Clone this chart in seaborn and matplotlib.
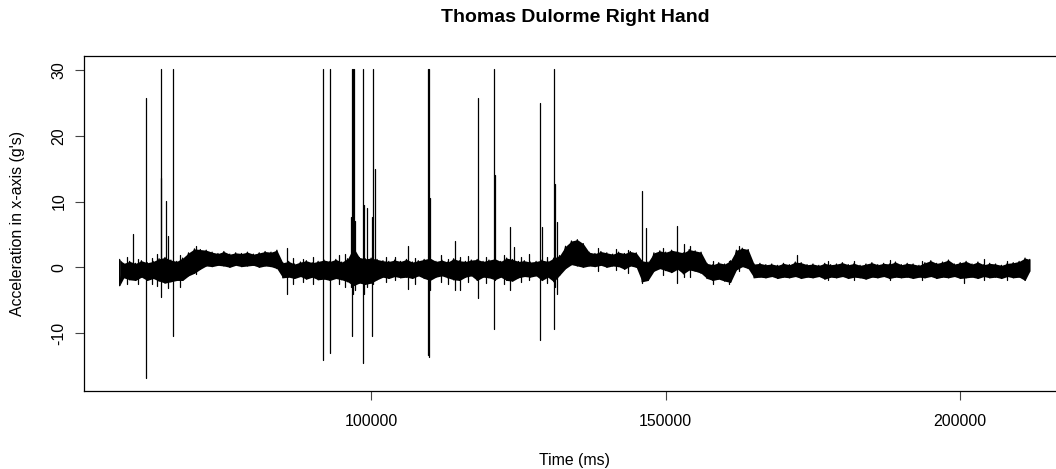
import numpy as np
import pandas as pd
import matplotlib
matplotlib.use("Agg")
import matplotlib.pyplot as plt
import seaborn as sns

# ---------------- data ----------------
title = "Thomas Dulorme Right Hand"
x_label = "Time (ms)"
y_label = "Acceleration in x-axis (g's)"
x_ticks = [100000, 150000, 200000]
y_ticks = [-10, 0, 10, 20, 30]

# time grid of the envelope readings (ms)
env_t = [57300] + list(range(58000, 212000, 1000)) + [211800]

# upper edge of the dense noise band at each env_t (g)
env_hi = [
    1.2, 0.6, 0.9, 0.6, 1.0, 0.7, 0.9, 1.3, 1.5, 1.1,          # 57.3-66
    0.9, 1.4, 2.2, 2.8, 2.7, 2.6, 2.3, 2.1, 2.4, 2.0,          # 67-76
    2.2, 2.1, 2.3, 2.0, 2.2, 2.4, 2.3, 2.6, 0.7, 0.9,          # 77-86
    0.5, 0.8, 1.0, 0.7, 0.9, 1.1, 0.9, 1.2, 0.8, 1.3,          # 87-96
    3.0, 1.5, 1.3, 1.4, 1.2, 1.0, 0.9, 1.1, 0.9, 1.2,          # 97-106
    0.8, 1.0, 1.2, 1.4, 0.9, 1.1, 0.8, 1.3, 1.0, 0.9,          # 107-116
    1.1, 1.2, 0.9, 1.1, 1.3, 0.9, 1.4, 1.2, 0.9, 1.0,          # 117-126
    0.8, 0.9, 1.1, 0.9, 1.4, 1.8, 3.2, 4.0, 4.2, 3.6,          # 127-136
    2.3, 2.1, 2.4, 2.2, 2.0, 2.3, 2.1, 2.4, 2.2, 1.0,          # 137-146
    0.8, 2.2, 2.5, 2.3, 2.6, 2.4, 2.2, 2.7, 2.5, 2.3,          # 147-156
    0.6, 0.4, 0.7, 0.5, 1.0, 2.6, 2.9, 2.7, 0.5, 0.6,          # 157-166
    0.4, 0.5, 0.3, 0.6, 0.4, 0.8, 0.7, 0.4, 0.5, 0.3,          # 167-176
    0.6, 0.4, 0.5, 0.7, 0.4, 0.6, 0.3, 0.5, 0.7, 0.4,          # 177-186
    0.6, 0.5, 0.8, 0.4, 0.6, 0.5, 0.3, 0.7, 1.0, 0.6,          # 187-196
    0.8, 1.1, 0.5, 0.7, 0.9, 0.5, 0.8, 0.4, 0.6, 0.5,          # 197-206
    0.3, 0.6, 0.7, 0.9, 1.4, 1.2,                              # 207-211.8
]

# lower edge of the dense noise band at each env_t (g)
env_lo = [
    -2.8, -1.6, -1.9, -2.0, -1.5, -2.0, -1.7, -2.1, -2.4, -2.2,
    -2.0, -2.0, -1.3, -0.9, -0.3, 0.2, 0.1, 0.3, 0.2, 0.0,
    0.3, 0.1, 0.2, 0.3, 0.0, 0.2, 0.1, -0.2, -1.6, -1.5,
    -1.7, -1.4, -1.8, -1.5, -1.9, -1.8, -2.0, -1.7, -1.9, -2.2,
    -2.8, -2.4, -2.6, -2.4, -1.9, -1.5, -1.7, -1.4, -1.6, -1.5,
    -1.7, -1.3, -1.7, -2.0, -1.5, -1.3, -1.6, -1.9, -2.0, -1.5,
    -1.3, -2.0, -1.5, -1.6, -1.9, -1.5, -2.0, -2.1, -1.6, -1.4,
    -1.5, -1.3, -2.0, -1.5, -2.2, -1.2, -0.2, 0.4, 0.2, 0.0,
    0.2, 0.1, 0.3, 0.0, 0.2, 0.1, -0.3, 0.2, 0.0, -2.2,
    -2.0, -0.6, -0.2, -0.5, -0.8, -0.3, -1.0, -0.4, -0.6, -0.9,
    -1.7, -2.0, -1.8, -2.1, -2.3, -0.4, 0.1, -0.2, -1.6, -1.5,
    -1.6, -1.4, -1.7, -1.5, -1.6, -1.4, -1.7, -1.5, -1.6, -1.4,
    -1.8, -1.5, -1.6, -1.4, -1.7, -1.5, -1.6, -1.8, -1.5, -1.6,
    -1.4, -1.7, -1.5, -1.6, -1.5, -1.7, -1.5, -1.6, -1.4, -1.7,
    -1.5, -1.6, -1.4, -1.7, -1.6, -1.5, -1.7, -1.4, -1.6, -1.5,
    -1.7, -1.4, -1.6, -1.5, -2.0, -0.6,
]

# spikes / needles: time (ms), peak (g), trough (g)
spike_t = [58500, 59640, 60500, 61740, 62800, 63600, 64300, 64340, 65190, 65500,
           66430, 67500, 70300, 85790, 86800, 88500, 90200, 91800, 93040, 94500,
           95500, 96600, 96750, 96900, 97050, 97300, 98590, 98700, 99370, 100170,
           100290, 100630, 102500, 104000, 106330, 107500, 109620, 109850, 110020, 111800,
           113000, 114260, 115110, 116500, 118120, 119500, 120770, 120950, 122500, 123600,
           124170, 125500, 126800, 128700, 128930, 129800, 131070, 131240, 131500, 138500,
           141500, 143600, 145960, 146640, 149500, 151900, 153030, 154200, 158000, 160800,
           162500, 172280, 177500, 182000, 188000, 193500, 200580, 204000, 208000]
spike_hi = [1.5, 5.0, 1.2, 25.7, 1.4, 2.0, 13.5, 30.2, 10.1, 4.7,
            30.2, 1.8, 3.2, 3.0, 1.4, 1.2, 1.5, 30.2, 30.2, 1.8,
            2.0, 7.7, 30.2, 30.2, 30.2, 7.0, 30.2, 9.5, 9.0, 7.7,
            30.2, 15.0, 1.6, 1.5, 3.3, 1.4, 30.2, 30.2, 10.6, 1.9,
            1.3, 4.0, 1.5, 1.7, 25.8, 1.6, 30.2, 14.0, 1.8, 6.1,
            3.1, 1.5, 2.0, 25.0, 6.2, 1.6, 30.2, 12.6, 6.9, 2.9,
            2.8, 2.7, 11.6, 5.9, 3.0, 6.3, 3.6, 3.2, 1.0, 0.9,
            3.3, 1.9, 1.0, 0.9, 1.1, 0.9, 0.6, 1.2, 0.9]
spike_lo = [-2.6, -1.6, -2.5, -16.9, -2.6, -2.8, -2.0, -4.5, -2.2, -3.1,
            -10.4, -3.0, -1.0, -4.1, -2.6, -2.3, -2.5, -14.1, -13.0, -2.6,
            -3.0, -3.0, -10.5, -4.0, -2.5, -3.5, -14.6, -4.0, -3.0, -10.4,
            -2.5, -2.0, -2.2, -2.0, -3.3, -2.5, -13.3, -13.6, -3.5, -2.3,
            -2.6, -3.4, -3.4, -2.2, -4.7, -2.4, -9.4, -2.0, -2.5, -3.5,
            -1.5, -2.2, -2.0, -11.1, -2.0, -2.4, -9.4, -3.0, -4.0, -0.5,
            -0.4, -0.9, -2.4, -2.0, -1.2, -2.4, -1.5, -1.5, -2.5, -2.6,
            -0.6, -1.2, -1.9, -2.0, -1.9, -2.0, -2.4, -1.9, -2.0]

# ---------------- assemble the readings into one long table ----------------
rows = []
for t, h, l in zip(env_t, env_hi, env_lo):
    rows.append((0, t, 0, h))
    rows.append((0, t, 1, l))
for k, (t, h, l) in enumerate(zip(spike_t, spike_hi, spike_lo), start=1):
    rows.append((k, t, 0, h))
    rows.append((k, t, 1, l))
sig = pd.DataFrame(rows, columns=["unit", "time", "order", "acc"]).sort_values(
    ["unit", "time", "order"], kind="stable").reset_index(drop=True)

# ---------------- figure ----------------
sns.set_theme(style="ticks")
plt.rcParams["font.family"] = ["Liberation Sans", "DejaVu Sans"]
plt.rcParams["text.color"] = "black"
plt.rcParams["axes.labelcolor"] = "black"
plt.rcParams["xtick.color"] = "black"
plt.rcParams["ytick.color"] = "black"

W, H = 1056, 469
fig = plt.figure(figsize=(W / 100, H / 100), dpi=100)
ax = fig.add_axes([83.7 / W, (H - 391) / H, (1066 - 83.7) / W, (391 - 56.3) / H])

ax.fill_between(env_t, env_lo, env_hi, color="black", lw=0)
sns.lineplot(data=sig, x="time", y="acc", units="unit", sort=False,
             estimator=None, color="black", lw=0.9, ax=ax)

ax.set_xlim(51200, 217950)
ax.set_ylim(-18.8, 32.07)
ax.set_xticks(x_ticks)
ax.set_xticklabels([str(v) for v in x_ticks])
ax.set_yticks(y_ticks)
ax.set_yticklabels([str(v) for v in y_ticks])

for s in ax.spines.values():
    s.set_visible(True)
    s.set_color("black")
    s.set_linewidth(0.9)

ax.tick_params(axis="both", direction="out", length=6.5, width=0.8,
               color="#444444", labelsize=11.4, labelcolor="black")
ax.tick_params(axis="x", pad=10)
ax.tick_params(axis="y", pad=6)
for lbl in ax.get_yticklabels():
    lbl.set_rotation(90)
    lbl.set_verticalalignment("center")

ax.set_xlabel(x_label, fontsize=11.4, labelpad=17, color="black")
ax.set_ylabel(y_label, fontsize=11.4, labelpad=19, color="black")
ax.set_title(title, fontsize=14, fontweight="bold", pad=25, color="black")
ax.grid(False)

fig.savefig("out.png", dpi=100)
